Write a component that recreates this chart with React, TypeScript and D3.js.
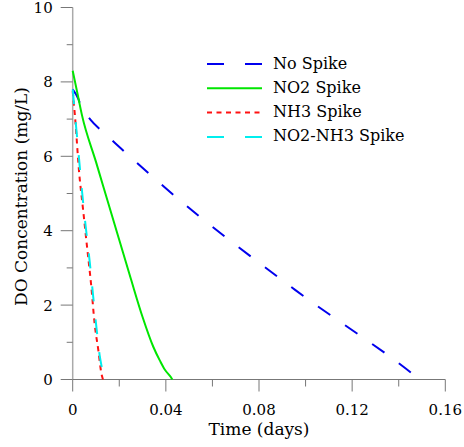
import * as d3 from "d3";

const width = 464;
const height = 447;
const margin = { left: 72.7, right: 18.7, top: 7.5, bottom: 67.5 };

// time in days, DO in mg/L
const noSpikeTime = [0, 0.0023, 0.0034, 0.0077, 0.0127, 0.0185, 0.0232, 0.0396, 0.0955, 0.1466, 0.149];
const noSpikeDO = [7.8, 7.56, 7.38, 6.98, 6.67, 6.34, 6.07, 5.16, 2.41, 0.12, 0];

const no2Time = [0, 0.002, 0.004, 0.01, 0.015, 0.02, 0.025, 0.03, 0.0346, 0.0375, 0.0396, 0.0422, 0.0428];
const no2DO = [8.3, 7.7, 7.1, 5.85, 4.8, 3.75, 2.7, 1.68, 0.88, 0.5, 0.26, 0.06, 0];

const nh3Time = [0, 0.001, 0.0028, 0.0044, 0.006, 0.008, 0.0094, 0.011, 0.0123, 0.013];
const nh3DO = [7.75, 7.06, 5.54, 4.6, 3.66, 2.49, 1.51, 0.79, 0.17, 0];

const bothTime = [0, 0.0014, 0.0027, 0.0041, 0.0056, 0.0073, 0.0088, 0.0104, 0.0117, 0.0123, 0.0134, 0.0144];
const bothDO = [7.8, 6.84, 5.95, 5.0, 4.1, 3.17, 2.23, 1.28, 0.6, 0.39, 0.12, 0];

const xTicks = [0, 0.04, 0.08, 0.12, 0.16];
const xMinorTicks = [0.02, 0.06, 0.1, 0.14];
const yTicks = [0, 2, 4, 6, 8, 10];
const yMinorTicks = [1, 3, 5, 7, 9];

const series = [
  { name: "No Spike", t: noSpikeTime, v: noSpikeDO, color: "#0000ee", dash: "15,18", legendDash: "17,21" },
  { name: "NO2 Spike", t: no2Time, v: no2DO, color: "#00e600", dash: null, legendDash: null },
  { name: "NH3 Spike", t: nh3Time, v: nh3DO, color: "#ff1111", dash: "5,4.5", legendDash: "5,4.5" },
  { name: "NO2-NH3 Spike", t: bothTime, v: bothDO, color: "#00eeee", dash: "15,18", legendDash: "17,21" },
];

const font = "'DejaVu Serif', Georgia, serif";

export default function App() {
  const x = d3.scaleLinear().domain([0, 0.16]).range([margin.left, width - margin.right]);
  const y = d3.scaleLinear().domain([0, 10]).range([height - margin.bottom, margin.top]);
  const line = d3
    .line<[number, number]>()
    .x((d) => x(d[0]))
    .y((d) => y(d[1]))
    .curve(d3.curveMonotoneX);

  const x0 = x(0);
  const y0 = y(0);

  return (
    <svg
      width={width}
      height={height}
      style={{ position: "absolute", left: 0, top: 0, background: "#fff" }}
      fontFamily={font}
    >
      {/* axes */}
      <line x1={x0} x2={x0} y1={y(10)} y2={y0} stroke="#aaa" strokeWidth={1.5} />
      <line x1={x0} x2={x(0.16)} y1={y0} y2={y0} stroke="#777" strokeWidth={1.2} />
      {yTicks.map((t) => (
        <g key={"y" + t}>
          <line x1={x0 - 12} x2={x0} y1={y(t)} y2={y(t)} stroke="#777" strokeWidth={1} />
          <text x={x0 - 20} y={y(t) + 1.5} textAnchor="end" dominantBaseline="middle" fontSize={15} fill="#000">
            {t}
          </text>
        </g>
      ))}
      {yMinorTicks.map((t) => (
        <line key={"ym" + t} x1={x0 - 6} x2={x0} y1={y(t)} y2={y(t)} stroke="#777" strokeWidth={1} />
      ))}
      {xTicks.map((t) => (
        <g key={"x" + t}>
          <line x1={x(t)} x2={x(t)} y1={y0} y2={y0 + 12} stroke="#777" strokeWidth={1} />
          <text x={x(t)} y={y0 + 31} textAnchor="middle" dominantBaseline="middle" fontSize={15} fill="#000">
            {t === 0 ? "0" : String(t)}
          </text>
        </g>
      ))}
      {xMinorTicks.map((t) => (
        <line key={"xm" + t} x1={x(t)} x2={x(t)} y1={y0} y2={y0 + 7} stroke="#777" strokeWidth={1} />
      ))}
      <text x={(x0 + x(0.16)) / 2} y={y0 + 51} textAnchor="middle" dominantBaseline="middle" fontSize={17} fill="#000">
        Time (days)
      </text>
      <text
        transform={`translate(22, ${(y(0) + y(10)) / 2 + 3}) rotate(-90)`}
        textAnchor="middle"
        dominantBaseline="middle"
        fontSize={17}
        fill="#000"
      >
        DO Concentration (mg/L)
      </text>

      {/* curves */}
      {series.map((s) => (
        <path
          key={s.name}
          d={line(s.t.map((t, i) => [t, s.v[i]] as [number, number])) || ""}
          fill="none"
          stroke={s.color}
          strokeWidth={2}
          strokeDasharray={s.dash || undefined}
        />
      ))}

      {/* legend */}
      {series.map((s, i) => {
        const ly = 64 + i * 24.3;
        return (
          <g key={"lg" + s.name}>
            <line
              x1={207}
              x2={262}
              y1={ly}
              y2={ly}
              stroke={s.color}
              strokeWidth={2}
              strokeDasharray={s.legendDash || undefined}
            />
            <text x={273} y={ly} dominantBaseline="middle" fontSize={16} fill="#000">
              {s.name}
            </text>
          </g>
        );
      })}
    </svg>
  );
}
